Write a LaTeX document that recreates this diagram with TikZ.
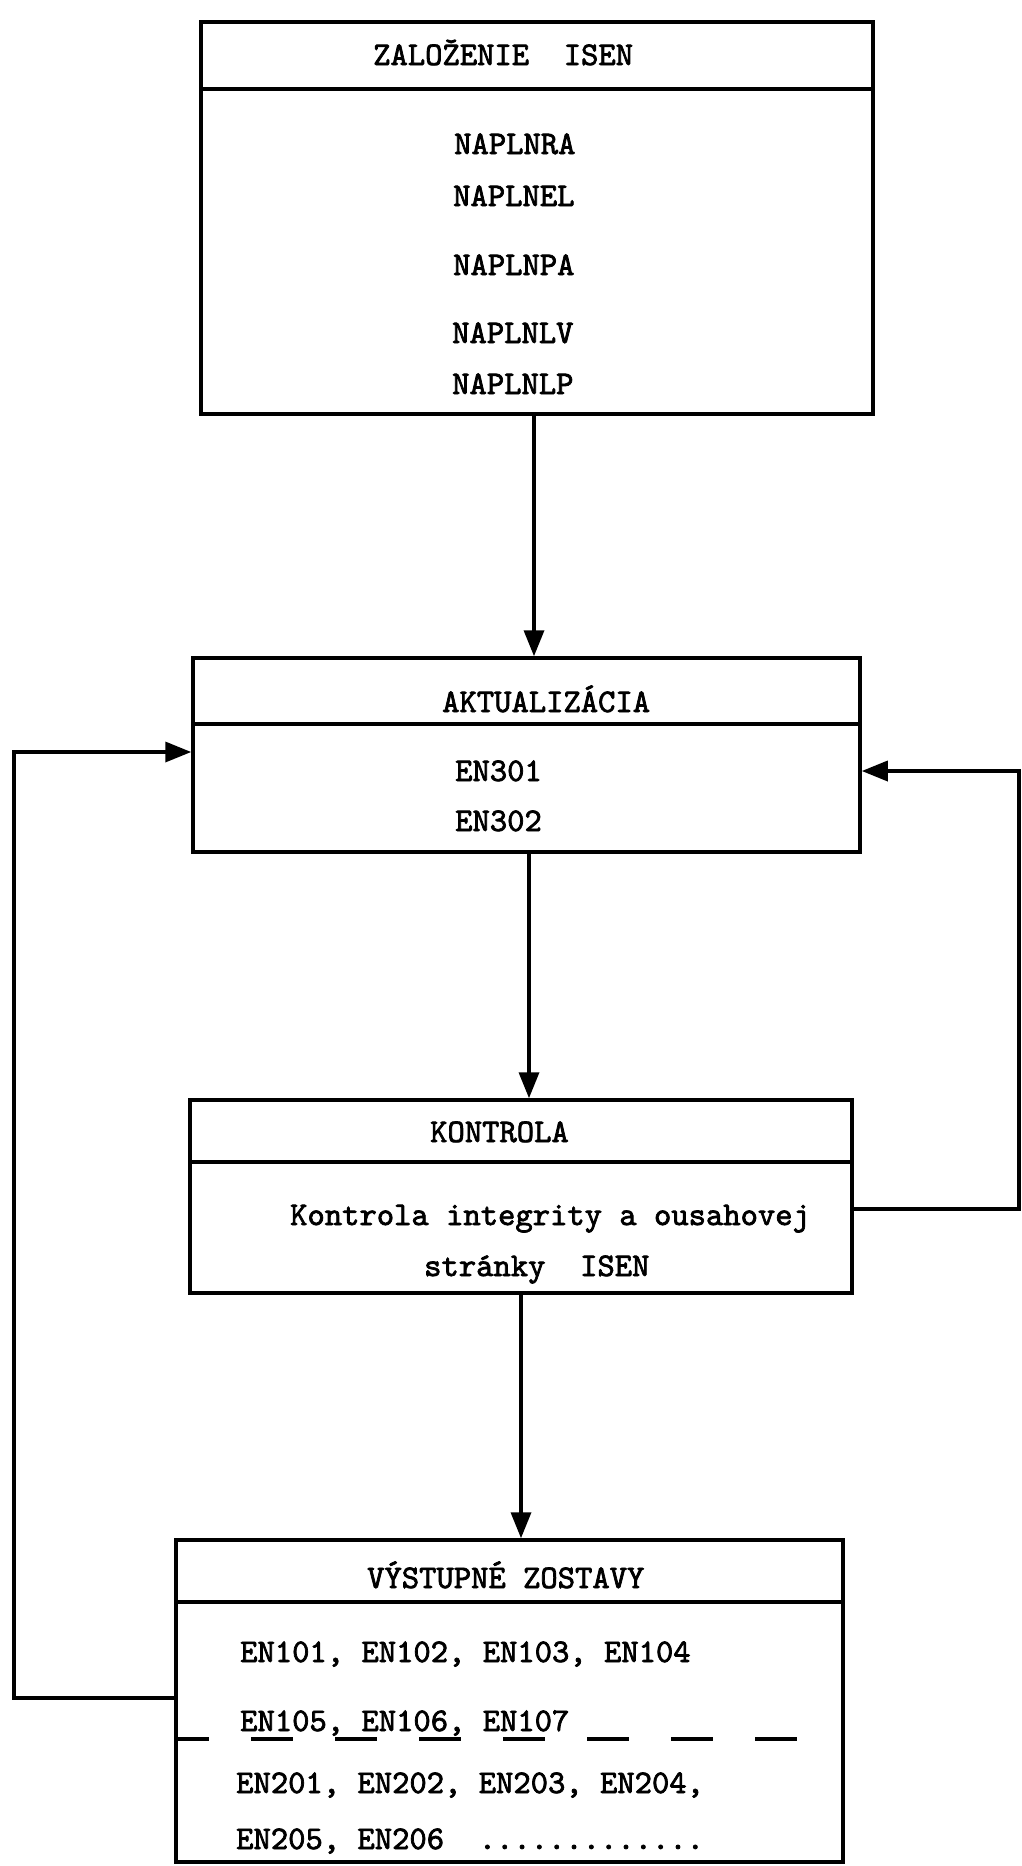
\documentclass[tikz,border=0pt]{standalone}
\usepackage{fontspec}
\usetikzlibrary{arrows.meta}
\newfontfamily\tw{lmmono10-regular.otf}[FakeBold=2.2]
\tikzset{
  box/.style={draw, line width=3.5pt, rectangle, inner sep=0pt},
  conn/.style={line width=3.5pt},
  arr/.style={conn, -{Triangle[length=26pt,width=20pt]}},
  txt/.style={anchor=base west, inner sep=0pt, font=\tw\fontsize{33}{36}\selectfont},
}
\begin{document}
\begin{tikzpicture}[x=1pt,y=-1pt]
\useasboundingbox (0,0) rectangle (1022,1866);
\fill[white] (0,0) rectangle (1022,1866);
% boxes
\node[box, minimum width=672pt, minimum height=392pt] (b1) at (537,218) {};
\node[box, minimum width=667pt, minimum height=194pt] (b2) at (526.5,755) {};
\node[box, minimum width=662pt, minimum height=193pt] (b3) at (521,1196.5) {};
\node[box, minimum width=667pt, minimum height=322pt] (b4) at (509.5,1701) {};
% header lines
\coordinate (h1) at (0,89);
\coordinate (h2) at (0,724);
\coordinate (h3) at (0,1162);
\coordinate (h4) at (0,1602);
\draw[conn] (b1.west |- h1) -- (b1.east |- h1);
\draw[conn] (b2.west |- h2) -- (b2.east |- h2);
\draw[conn] (b3.west |- h3) -- (b3.east |- h3);
\draw[conn] (b4.west |- h4) -- (b4.east |- h4);
% texts
\node[txt] (t1) at (373,65) {ZALOŽENIE\ \ ISEN};
\node[txt] (n1) at (454,154) {NAPLNRA};
\node[txt] (n2) at (453,206) {NAPLNEL};
\node[txt] (n3) at (453,275) {NAPLNPA};
\node[txt] (n4) at (452,343) {NAPLNLV};
\node[txt] (n5) at (452,394) {NAPLNLP};
\node[txt] (t2) at (442,712) {AKTUALIZÁCIA};
\node[txt] (e1) at (455,781) {EN301};
\node[txt] (e2) at (455,831) {EN302};
\node[txt] (t3) at (430,1142) {KONTROLA};
\node[txt] (k1) at (290,1225) {Kontrola integrity a ousahovej};
\node[txt] (k2) at (424,1276) {stránky\ \ ISEN};
\node[txt] (t4) at (367,1588) {VÝSTUPNÉ ZOSTAVY};
\node[txt] (v1) at (240,1662) {EN101, EN102, EN103, EN104};
\node[txt] (v2) at (240,1731) {EN105, EN106, EN107};
\node[txt] (v3) at (236,1793) {EN201, EN202, EN203, EN204,};
\node[txt] (v4) at (236,1849) {EN205, EN206\ \ .............};
% dashed separator
\coordinate (d1) at (799,1739);
\draw[conn, dash pattern=on 42pt off 42pt, dash phase=7pt] (b4.west |- d1) -- (d1);
% main arrows
\coordinate (c1) at (534,0);
\coordinate (c2) at (529,0);
\coordinate (c3) at (521,0);
\draw[arr] (b1.south -| c1) -- (b2.north -| c1);
\draw[arr] (b2.south -| c2) -- (b3.north -| c2);
\draw[arr] (b3.south -| c3) -- (b4.north -| c3);
% feedback loops
\coordinate (L1) at (14,1698);
\coordinate (L2) at (14,752);
\draw[arr] (L1 -| b4.west) -- (L1) -- (L2) -- (L2 -| b2.west);
\coordinate (R1) at (1019,1209);
\coordinate (R2) at (1019,771);
\draw[arr] (R1 -| b3.east) -- (R1) -- (R2) -- (R2 -| b2.east);
\end{tikzpicture}
\end{document}
